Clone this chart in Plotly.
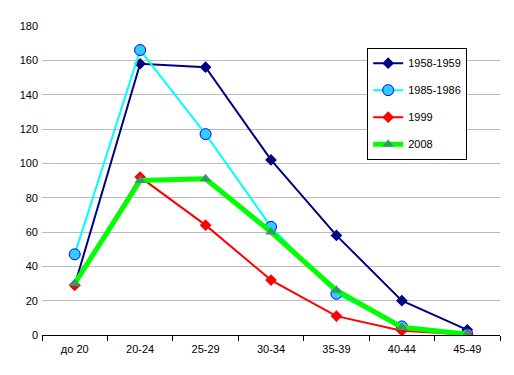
import plotly.graph_objects as go

categories = ["до 20", "20-24", "25-29", "30-34", "35-39", "40-44", "45-49"]
s1958 = [29, 158, 156, 102, 58, 20, 3]
s1985 = [47, 166, 117, 63, 24, 5, 0.5]
s1999 = [29, 92, 64, 32, 11, 2.5, 0.3]
s2008 = [30, 90, 91, 60, 26, 4.5, 0.5]
yticks = [0, 20, 40, 60, 80, 100, 120, 140, 160, 180]

fig = go.Figure()
fig.add_trace(go.Scatter(x=categories, y=s1958, name="1958-1959", mode="lines+markers",
                         legendgroup="a",
                         line=dict(color="#000080", width=2),
                         marker=dict(symbol="diamond", size=9, color="#000080")))
fig.add_trace(go.Scatter(x=categories, y=s1985, name="1985-1986", mode="lines+markers",
                         legendgroup="b",
                         line=dict(color="#00FFFF", width=2),
                         marker=dict(symbol="circle", size=11, color="#33CCFF",
                                     line=dict(color="#0000FF", width=1))))
fig.add_trace(go.Scatter(x=categories, y=s1999, name="1999", mode="lines+markers",
                         legendgroup="c",
                         line=dict(color="#FF0000", width=2),
                         marker=dict(symbol="diamond", size=9, color="#FF0000")))
fig.add_trace(go.Scatter(x=categories, y=s2008, name="2008", mode="lines+markers",
                         legendgroup="d",
                         line=dict(color="#00FF00", width=5),
                         marker=dict(symbol="triangle-up", size=10, color="#339966")))

fig.update_layout(
    width=506, height=367,
    margin=dict(l=34, r=14, t=16, b=40),
    paper_bgcolor="white", plot_bgcolor="white",
    font=dict(family="Liberation Sans, Arial, sans-serif", size=11, color="black"),
    showlegend=True,
    legend=dict(x=0.71, y=0.93, xanchor="left", yanchor="top",
                bordercolor="black", borderwidth=1, bgcolor="white",
                font=dict(size=11), tracegroupgap=8, itemwidth=30),
    xaxis=dict(type="category", tickson="boundaries", ticks="outside", ticklen=5,
               tickcolor="black", showline=True, linecolor="black", linewidth=1,
               showgrid=False, zeroline=False, range=[-0.5, 6.5],
               ticklabelstandoff=4),
    yaxis=dict(range=[0, 180], tickvals=yticks, showgrid=True, gridcolor="#BBBBBB",
               gridwidth=1, zeroline=False, showline=False, ticks="", ticklen=0,
               ticklabelstandoff=3),
)
fig.write_html("out.html")
